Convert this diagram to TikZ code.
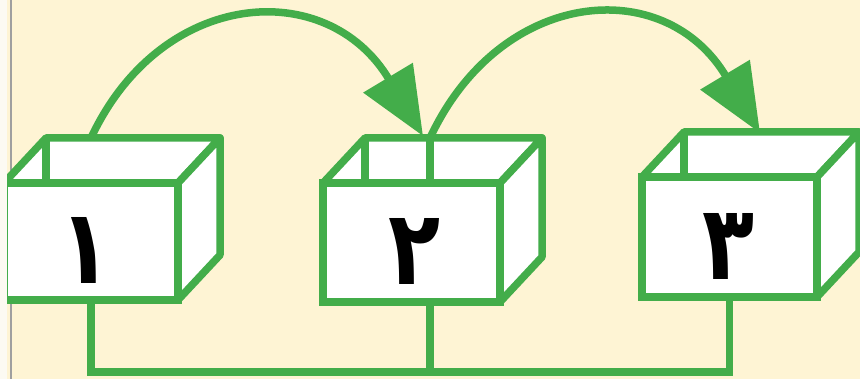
\documentclass[tikz,border=0pt]{standalone}
\usepackage{fontspec}
\newfontfamily\arabicfont[Script=Arabic]{DejaVu Sans}
\usetikzlibrary{arrows.meta,calc}
\definecolor{boxgreen}{RGB}{67,173,74}
\definecolor{cream}{RGB}{254,244,212}
\definecolor{strip}{RGB}{252,250,242}
\tikzset{
  frontface/.style={draw=boxgreen, fill=white, line width=7.5pt, line join=miter,
    inner sep=0pt, outer sep=0pt},
  digit/.style={font=\arabicfont\bfseries\fontsize{104}{104}\selectfont, inner sep=0pt},
  boxedge/.style={draw=boxgreen, fill=white, line width=7.5pt, line join=round},
  boxline/.style={draw=boxgreen, line width=7.5pt},
  link/.style={draw=boxgreen, line width=7.5pt, line join=miter},
  jump/.style={draw=boxgreen, line width=7.5pt, -{Triangle[length=68pt,width=56pt]}}
}
\newcommand\openbox[7]{%
  \node[frontface, minimum width=#4pt, minimum height=#5pt, anchor=north west] (#1) at (#2,#3) {};
  \path[boxedge] (#1.north west) -- ++(42,45) -- ($(#1.north east)+(42,45)$) -- (#1.north east) -- cycle;
  \path[boxedge] (#1.north east) -- ++(42,45) -- ($(#1.south east)+(42,45)$) -- (#1.south east) -- cycle;
  \draw[boxline] ($(#1.north west)+(42,45)$) -- ($(#1.north west)+(42,0)$);
  \node[digit] (#1t) at ($(#1.center)+(#7,-9)$) {\scalebox{0.82}[1]{#6}};
}
\begin{document}
\begin{tikzpicture}[x=1pt,y=1pt]
  \useasboundingbox (0,0) rectangle (860,379);
  \fill[cream] (0,0) rectangle (860,379);
  \fill[gray!75] (9.8,0) rectangle (12.2,379);
  \openbox{b1}{4}{196}{174}{117}{١}{-5}
  \openbox{b2}{323}{196}{177}{119}{٢}{3}
  \openbox{b3}{642}{202}{175}{120}{٣}{-1}
  % junction points
  \coordinate (base) at (430,7);
  \coordinate (s1) at ($(b1.north)+(0,45)$);
  \coordinate (s2) at ($(b2.north -| base)+(0,45)$);
  \coordinate (e1) at (423,243);
  \coordinate (e2) at (760,246);
  % bottom connectors
  \draw[link] (b1.south) |- (base) -| (b3.south);
  \draw[link] (b2.south -| base) -- (base);
  % line through the open top of box 2
  \draw[boxline] (b2.north -| base) -- (s2);
  % arcs
  \draw[jump] (s1) .. controls +(70,150) and +(-96,160) .. (e1);
  \draw[jump] (s2) .. controls +(70,150) and +(-96,160) .. (e2);
  \fill[strip] (0,0) rectangle (7,379);
\end{tikzpicture}
\end{document}
